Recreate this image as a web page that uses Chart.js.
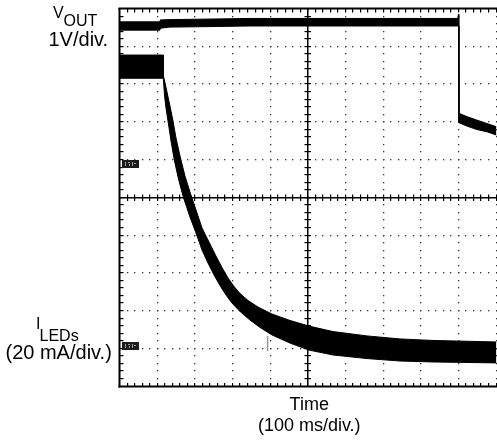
<!DOCTYPE html>
<html><head><meta charset="utf-8">
<script src="https://cdn.jsdelivr.net/npm/chart.js@4.4.1/dist/chart.umd.min.js"></script>
<style>html,body{margin:0;padding:0;background:#fff;overflow:hidden}#wrap{width:497px;height:444px}</style>
</head><body><div id="wrap"><canvas id="c" width="497" height="444"></canvas></div>
<script>
// Time base: 10 divisions of 100 ms
const timeDivMs = 100;
const timeDivisions = 10;
const verticalDivisions = 10;
// Channel scales
const voutPerDiv = 1;      // V/div
const iledPerDiv = 20;     // mA/div
const voutRange = [-5.9, 4.1];
const iledRange = [-20, 180];

// VOUT trace (V): noisy band, upper and lower edge [time ms, volts]
const voutUpper = [[0,3.76],[106,3.76],[107,3.81],[133,3.82],[212,3.83],[345,3.85],[897,3.85],[899,3.96],[900,3.96],[900,1.34],[921,1.25],[947,1.16],[974,1.07],[1000,0.98]];
const voutLower = [[0,3.54],[106,3.54],[107,3.59],[133,3.62],[212,3.63],[345,3.65],[900,3.65],[900,1.09],[921,1.00],[947,0.91],[974,0.85],[1000,0.76]];

// ILEDs trace (mA): noisy band, upper and lower edge [time ms, mA]
const iledUpper = [[0,155.6],[115,155.6],[115.5,144.5],[124.8,136.0],[132.8,128.6],[140.8,120.7],[148.7,111.7],[159.4,102.1],[172.6,91.5],[185.9,83.0],[201.9,73.5],[217.8,64.0],[233.7,57.6],[255,49.1],[270.9,43.0],[286.9,37.5],[302.8,33.0],[318.7,29.3],[340,25.6],[366.5,22.1],[403.7,18.4],[451.5,15.0],[502,12.0],[565.7,9.1],[656,6.8],[743.7,5.2],[831.3,4.4],[1000,3.6]];
const iledLower = [[0,143.3],[115,143.3],[118.2,134.4],[122.2,127.5],[128.3,119.6],[135.5,110.1],[144.2,100.0],[155.4,89.9],[168.1,80.4],[185.9,69.8],[201.9,61.3],[217.8,52.3],[233.7,45.4],[249.7,39.1],[265.6,33.5],[281.5,28.5],[297.5,24.2],[313.4,20.8],[329.3,17.9],[345.3,15.2],[371.8,11.3],[403.7,7.3],[451.5,3.0],[502,-0.7],[565.7,-3.3],[656,-5.2],[743.7,-6.5],[831.3,-7.0],[1000,-7.5]];

// small cursor mark on the ILEDs trace [time ms, mA]
const cursorMark = [[392,6.8],[392,-1.2]];

// Labels
const voutLabel = ['V', 'OUT', '1V/div.'];
const iledLabel = ['I', 'LEDs', '(20 mA/div.)'];
const timeLabel = ['Time', '(100 ms/div.)'];

const pts = a => a.map(([x, y]) => ({x, y}));
const FONT = '"Liberation Sans", Arial, Helvetica, sans-serif';

const scopeGrid = {
  id: 'scopeGrid',
  beforeDatasetsDraw(chart) {
    const {ctx, chartArea: a, scales} = chart;
    const xs = scales.x, ys = scales.div;
    const xMax = timeDivisions * timeDivMs;
    ctx.save();
    ctx.fillStyle = '#333';
    // dotted grid
    for (let i = 1; i <= timeDivisions; i++) {
      if (i === timeDivisions / 2) continue;
      const px = Math.round(xs.getPixelForValue(i * timeDivMs));
      for (let k = 1; k < verticalDivisions * 5; k++) {
        const py = Math.round(ys.getPixelForValue(k / 5));
        ctx.fillRect(px - 1, py - 1, 1.3, 1.3);
      }
    }
    for (let j = 1; j < verticalDivisions; j++) {
      if (j === verticalDivisions / 2) continue;
      const py = Math.round(ys.getPixelForValue(j));
      for (let k = 1; k <= timeDivisions * 5; k++) {
        const px = Math.round(xs.getPixelForValue(k * timeDivMs / 5));
        ctx.fillRect(px - 1, py - 1, 1.3, 1.3);
      }
    }
    // center cross with minor ticks
    ctx.fillStyle = '#000';
    const cx = Math.round(xs.getPixelForValue(xMax / 2));
    const cy = Math.round(ys.getPixelForValue(verticalDivisions / 2));
    ctx.fillRect(cx - 1, a.top, 1.5, a.bottom - a.top);
    ctx.fillRect(a.left, cy - 1, a.right - a.left + 2, 1.5);
    for (let k = 1; k < verticalDivisions * 5; k++) {
      const py = Math.round(ys.getPixelForValue(k / 5));
      ctx.fillRect(cx - 3.5, py - 1, 6.5, 1.2);
      ctx.fillRect(a.left, py - 1, 3.5, 1.2);
    }
    for (let k = 1; k <= timeDivisions * 5; k++) {
      const px = Math.round(xs.getPixelForValue(k * timeDivMs / 5));
      ctx.fillRect(px - 1, cy - 3.5, 1.2, 6.5);
      ctx.fillRect(px - 1, a.bottom - 3.5, 1.2, 3.5);
      ctx.fillRect(px - 1, a.top, 1.2, 3.5);
    }
    // frame: left, top, bottom (right edge is cropped)
    ctx.fillRect(a.left - 1.5, a.top - 1, 2, a.bottom - a.top + 2);
    ctx.fillRect(a.left - 1.5, a.top - 1.5, a.right - a.left + 3, 2);
    ctx.fillRect(a.left - 1.5, a.bottom - 1, a.right - a.left + 3, 2);
    ctx.restore();
  },
  afterDraw(chart) {
    const {ctx, scales} = chart;
    const xs = scales.x;
    ctx.save();
    // channel ground markers
    const drawMarker = (y) => {
      const x0 = chart.chartArea.left + 2;
      ctx.fillStyle = '#1c1c1c';
      ctx.fillRect(x0, y - 4, 17, 8);
      ctx.fillStyle = '#9a9a9a';
      ctx.fillRect(x0 + 3, y - 2, 1, 4);
      ctx.fillRect(x0 + 6, y - 2, 2, 1);
      ctx.fillRect(x0 + 7, y, 1, 2);
      ctx.fillRect(x0 + 10, y - 2, 1, 4);
      ctx.fillRect(x0 + 12, y - 1, 2, 1);
    };
    drawMarker(Math.round(scales.yV.getPixelForValue(0)));
    drawMarker(Math.round(scales.yI.getPixelForValue(0)) - 3);

    ctx.fillStyle = '#000';
    ctx.textBaseline = 'alphabetic';
    ctx.textAlign = 'left';
    ctx.font = '16px ' + FONT;
    ctx.fillText(voutLabel[0], 53, 17.5);
    ctx.fillText(voutLabel[1], 63.5, 25.5);
    ctx.font = '20px ' + FONT;
    ctx.fillText(voutLabel[2], 48.5, 46);
    ctx.font = '16px ' + FONT;
    ctx.fillText(iledLabel[0], 36, 328.5);
    ctx.fillText(iledLabel[1], 39.5, 340.5);
    ctx.font = '20px ' + FONT;
    ctx.fillText(iledLabel[2], 5.5, 359);
    ctx.textAlign = 'center';
    const cx = xs.getPixelForValue(timeDivisions * timeDivMs / 2);
    ctx.font = '18px ' + FONT;
    ctx.fillText(timeLabel[0], cx + 1, 409.5);
    ctx.fillText(timeLabel[1], cx + 1, 430.5);
    ctx.restore();
  }
};

const band = (data, axis, fillPrev) => ({
  data: pts(data), yAxisID: axis,
  borderColor: '#000', borderWidth: 1, pointRadius: 0, tension: 0,
  backgroundColor: '#000', fill: fillPrev ? '-1' : false
});

new Chart(document.getElementById('c'), {
  type: 'line',
  data: {
    datasets: [
      band(iledUpper, 'yI', false),
      band(iledLower, 'yI', true),
      band(voutUpper, 'yV', false),
      band(voutLower, 'yV', true),
      { data: pts(cursorMark), yAxisID: 'yI', borderColor: '#9a9a9a', borderWidth: 1.5, pointRadius: 0, fill: false }
    ]
  },
  options: {
    responsive: false,
    animation: false,
    events: [],
    layout: { padding: { left: 120, top: 9, right: 0.5, bottom: 57.5 } },
    plugins: { legend: { display: false }, tooltip: { enabled: false } },
    scales: {
      x: { type: 'linear', axis: 'x', position: 'bottom', min: 0, max: timeDivisions * timeDivMs, display: false },
      yV: { type: 'linear', axis: 'y', position: 'left', min: voutRange[0], max: voutRange[1], display: false },
      yI: { type: 'linear', axis: 'y', position: 'left', min: iledRange[0], max: iledRange[1], display: false },
      div: { type: 'linear', axis: 'y', position: 'left', min: 0, max: verticalDivisions, display: false }
    }
  },
  plugins: [scopeGrid]
});
</script>
</body></html>
